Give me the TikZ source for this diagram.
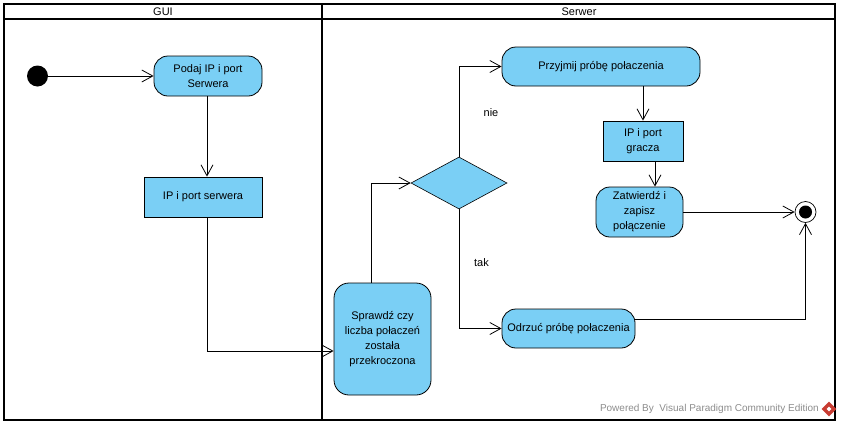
\documentclass[tikz,border=0pt]{standalone}
\usepackage{xcolor}
\usepackage{fontspec}
\setmainfont{Liberation Sans}
\definecolor{activityBlue}{RGB}{122, 207, 245}
\definecolor{poweredGray}{RGB}{140, 140, 140}
\definecolor{logoRed}{RGB}{200, 60, 50}
\usetikzlibrary{positioning,shapes.geometric,arrows.meta}
\tikzset{
  activity/.style={draw=black, fill=activityBlue, rounded corners=14pt, line width=0.8pt, inner sep=0pt, align=center, font=\fontsize{11}{15}\selectfont},
  objectbox/.style={draw=black, fill=activityBlue, line width=0.8pt, inner sep=0pt, align=center, font=\fontsize{11}{15}\selectfont},
  decision/.style={draw=black, fill=activityBlue, diamond, aspect=1.85, inner sep=0pt, line width=0.6pt},
  flow/.style={draw=black, line width=0.8pt, -{Straight Barb[length=11pt,width=12pt,line width=0.8pt]}},
  lane/.style={draw=black, line width=1.8pt, inner sep=0pt},
  guardText/.style={font=\fontsize{11}{13}\selectfont, inner sep=0pt}
}
\begin{document}
\begin{tikzpicture}[x=1pt,y=-1pt]
\useasboundingbox (0,0) rectangle (841,426);

% swimlanes
\node[lane, minimum width=318pt, minimum height=15pt] (guiHead) at (163,11.5) {};
\node[lane, minimum width=513pt, minimum height=15pt] (serwerHead) at (578.5,11.5) {};
\node[lane, minimum width=318pt, minimum height=401pt] (guiLane) at (163,219.5) {};
\node[lane, minimum width=513pt, minimum height=401pt] (serwerLane) at (578.5,219.5) {};
\node[guardText] (guiTitle) at (163,12) {GUI};
\node[guardText] (serwerTitle) at (579,12) {Serwer};

% start and end
\node[circle, fill=black, minimum size=21pt, inner sep=0pt] (start) at (37.5,76) {};
\node[circle, draw=black, fill=white, line width=0.7pt, minimum size=21pt, inner sep=0pt] (end) at (805.5,212) {};
\node[circle, fill=black, minimum size=13pt, inner sep=0pt] (endDot) at (805.5,212) {};

% activities
\node[activity, minimum width=108pt, minimum height=40pt] (podaj) at (208,76) {Podaj IP i port\\Serwera};
\node[objectbox, minimum width=118pt, minimum height=40pt] (ipSerwera) at (203,197) {IP i port serwera};
\node[activity, minimum width=97pt, minimum height=112pt, rounded corners=15pt] (sprawdz) at (382.5,339) {Sprawdź czy\\liczba połaczeń\\została\\przekroczona};
\node[decision, minimum width=96pt, minimum height=52pt] (decyzja) at (459,183) {};
\node[activity, minimum width=198pt, minimum height=39pt] (przyjmij) at (601,66.5) {Przyjmij próbę połaczenia};
\node[objectbox, minimum width=80pt, minimum height=40pt] (ipGracza) at (643,141) {IP i port\\gracza};
\node[activity, minimum width=87pt, minimum height=50pt] (zatwierdz) at (639.5,212) {Zatwierdź i\\zapisz\\połączenie};
\node[activity, minimum width=133pt, minimum height=39pt] (odrzuc) at (568.5,328.5) {Odrzuć próbę połaczenia};

% free ends off the centre of a box
\coordinate (graczaOut) at (655,161);
\coordinate (odrzucOut) at (635,319.3);
\coordinate (sprawdzOut) at (371,283);

% flows
\draw[flow] (start) -- (podaj);
\draw[flow] (podaj.south -| 207,0) -- (ipSerwera.north -| 207,0);
\draw[flow] (ipSerwera.south -| 207,0) |- (sprawdz.west |- 0,351);
\draw[flow] (sprawdzOut) |- (decyzja.west);
\draw[flow] (decyzja.north) |- (przyjmij.west);
\draw[flow] (decyzja.south) |- (odrzuc.west);
\draw[flow] (przyjmij.south -| ipGracza.north) -- (ipGracza.north);
\draw[flow] (graczaOut) -- (graczaOut |- zatwierdz.north);
\draw[flow] (zatwierdz.east) -- (end.west);
\draw[flow] (odrzucOut) -| (end.south);

% guards
\node[guardText] (nie) at (491,113) {nie};
\node[guardText] (tak) at (481.5,263) {tak};

% watermark
\node[font=\fontsize{10}{11}\selectfont, text=poweredGray, anchor=east, inner sep=0pt] (powered) at (819,409) {Powered By\ \ Visual Paradigm Community Edition};
\node[diamond, fill=logoRed, minimum size=15pt, inner sep=0pt] (logo) at (829,409) {};
\node[diamond, fill=white, minimum size=5pt, inner sep=0pt] (logoCore) at (829,409) {};
\end{tikzpicture}
\end{document}
